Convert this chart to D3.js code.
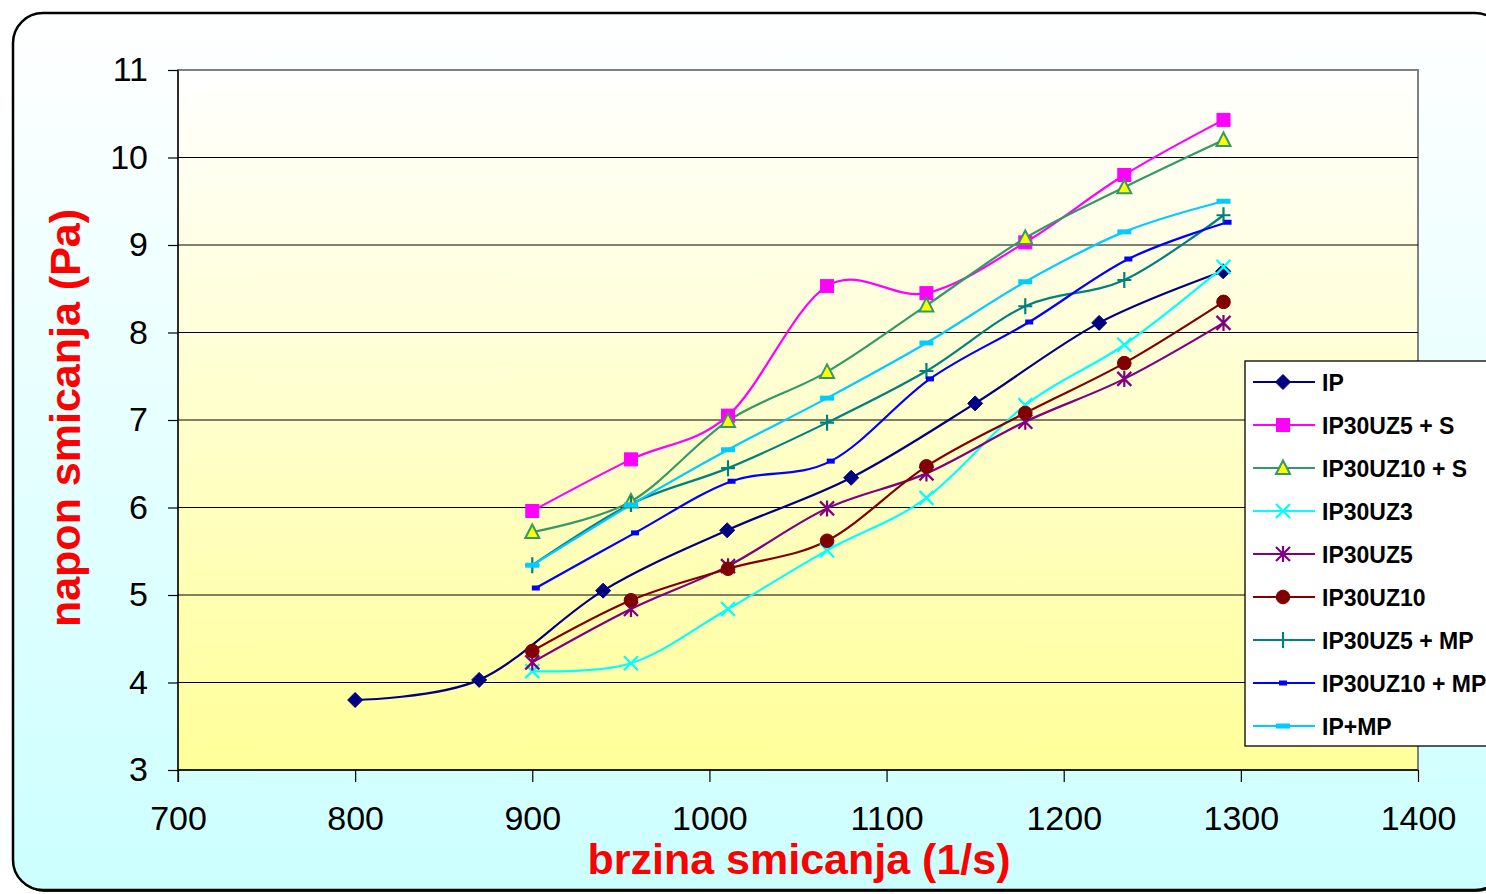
<!DOCTYPE html>
<html>
<head>
<meta charset="utf-8">
<script src="https://cdn.jsdelivr.net/npm/d3@7"></script>
<style>
  html, body { margin: 0; padding: 0; background: #ffffff; overflow: hidden; }
  svg { display: block; font-family: "Liberation Sans", Arial, sans-serif; }
</style>
</head>
<body>
<svg id="chart" width="1486" height="894"></svg>
<script>
// Shear rate (1/s) per measurement
const xIP = [800, 870, 940, 1010, 1080, 1150, 1220, 1290];
const xRates = [900, 955.7, 1010.5, 1066.4, 1122.5, 1178.3, 1234.2, 1290.2];
const xRatesUZ10MP = [902, 958, 1012.5, 1068.5, 1124.5, 1180.5, 1236.5, 1292.5];

// Shear stress (Pa) per series
const ipValues       = [3.80, 4.03, 5.05, 5.74, 6.34, 7.19, 8.11, 8.70];
const uz5sValues     = [5.96, 6.55, 7.05, 8.53, 8.45, 9.03, 9.80, 10.43];
const uz10sValues    = [5.72, 6.07, 6.99, 7.55, 8.31, 9.08, 9.66, 10.20];
const uz3Values      = [4.13, 4.22, 4.84, 5.51, 6.11, 7.17, 7.86, 8.75];
const uz5Values      = [4.23, 4.84, 5.33, 5.99, 6.39, 6.98, 7.47, 8.11];
const uz10Values     = [4.36, 4.94, 5.30, 5.62, 6.47, 7.08, 7.65, 8.35];
const uz5mpValues    = [5.34, 6.04, 6.45, 6.97, 7.56, 8.30, 8.60, 9.34];
const uz10mpValues   = [5.08, 5.71, 6.30, 6.53, 7.47, 8.12, 8.84, 9.26];
const ipmpValues     = [5.34, 6.03, 6.66, 7.25, 7.88, 8.58, 9.15, 9.50];

const seriesNames = ["IP", "IP30UZ5 + S", "IP30UZ10 + S", "IP30UZ3", "IP30UZ5",
                     "IP30UZ10", "IP30UZ5 + MP", "IP30UZ10 + MP", "IP+MP"];

const xTicks = [700, 800, 900, 1000, 1100, 1200, 1300, 1400];
const yTicks = [3, 4, 5, 6, 7, 8, 9, 10, 11];

const series = [
  { name: seriesNames[0], xs: xIP,          ys: ipValues,     color: "#000080", marker: "diamond" },
  { name: seriesNames[1], xs: xRates,       ys: uz5sValues,   color: "#ff00ff", marker: "square" },
  { name: seriesNames[2], xs: xRates,       ys: uz10sValues,  color: "#339966", marker: "triangle", fill: "#ffff00" },
  { name: seriesNames[3], xs: xRates,       ys: uz3Values,    color: "#00ffff", marker: "x" },
  { name: seriesNames[4], xs: xRates,       ys: uz5Values,    color: "#800080", marker: "star" },
  { name: seriesNames[5], xs: xRates,       ys: uz10Values,   color: "#800000", marker: "circle" },
  { name: seriesNames[6], xs: xRates,       ys: uz5mpValues,  color: "#008080", marker: "plus" },
  { name: seriesNames[7], xs: xRatesUZ10MP, ys: uz10mpValues, color: "#0000ff", marker: "shortdash" },
  { name: seriesNames[8], xs: xRates,       ys: ipmpValues,   color: "#00ccff", marker: "longdash" }
];

const svg = d3.select("#chart");
const defs = svg.append("defs");

const bgGrad = defs.append("linearGradient").attr("id", "bgGrad")
  .attr("x1", 0).attr("y1", 0).attr("x2", 0).attr("y2", 1);
bgGrad.append("stop").attr("offset", "0%").attr("stop-color", "#ffffff");
bgGrad.append("stop").attr("offset", "100%").attr("stop-color", "#ccffff");

const plotGrad = defs.append("linearGradient").attr("id", "plotGrad")
  .attr("x1", 0).attr("y1", 0).attr("x2", 0).attr("y2", 1);
plotGrad.append("stop").attr("offset", "0%").attr("stop-color", "#ffffff");
plotGrad.append("stop").attr("offset", "100%").attr("stop-color", "#ffff99");

// Chart frame with a thin drop shadow
svg.append("rect").attr("x", 15).attr("y", 15).attr("width", 1492).attr("height", 877)
  .attr("rx", 30).attr("ry", 30).attr("fill", "#222");
svg.append("rect").attr("x", 13).attr("y", 13).attr("width", 1492).attr("height", 877)
  .attr("rx", 30).attr("ry", 30).attr("fill", "url(#bgGrad)")
  .attr("stroke", "#000").attr("stroke-width", 2.5);

const margin = { left: 178, top: 70, right: 1418, bottom: 770 };
const x = d3.scaleLinear().domain([700, 1400]).range([margin.left, margin.right]);
const y = d3.scaleLinear().domain([3, 11]).range([margin.bottom, margin.top]);

// Plot area
svg.append("rect")
  .attr("x", margin.left).attr("y", margin.top)
  .attr("width", margin.right - margin.left).attr("height", margin.bottom - margin.top)
  .attr("fill", "url(#plotGrad)")
  .attr("stroke", "#808080").attr("stroke-width", 2);

// Horizontal gridlines
svg.append("g").selectAll("line").data(yTicks.slice(1, -1)).join("line")
  .attr("x1", margin.left).attr("x2", margin.right)
  .attr("y1", d => y(d)).attr("y2", d => y(d))
  .attr("stroke", "#000").attr("stroke-width", 1);

// Axes
const xAxis = svg.append("g").attr("transform", `translate(0,${margin.bottom})`)
  .call(d3.axisBottom(x).tickValues(xTicks).tickFormat(d3.format("d")).tickSize(12).tickPadding(24));
const yAxis = svg.append("g").attr("transform", `translate(${margin.left},0)`)
  .call(d3.axisLeft(y).tickValues(yTicks).tickFormat(d3.format("d")).tickSize(10).tickPadding(20));
[xAxis, yAxis].forEach(g => {
  g.select(".domain").attr("stroke", "#000").attr("stroke-width", 1.3);
  g.selectAll(".tick line").attr("stroke", "#000").attr("stroke-width", 1.2);
  g.selectAll(".tick text").attr("fill", "#000").attr("font-size", 34)
    .attr("font-family", "'Liberation Sans', Arial, sans-serif");
});
xAxis.select(".domain").attr("d", `M${margin.left},0H${margin.right}`);
yAxis.select(".domain").attr("d", `M0,${margin.bottom + 12}V${margin.top}`);

// Axis titles
svg.append("text").attr("x", 799).attr("y", 874)
  .attr("text-anchor", "middle").attr("font-size", 43).attr("font-weight", "bold")
  .attr("fill", "#ff0000").text("brzina smicanja (1/s)");
svg.append("text").attr("transform", "translate(80,418) rotate(-90)")
  .attr("text-anchor", "middle").attr("font-size", 43).attr("font-weight", "bold")
  .attr("fill", "#ff0000").text("napon smicanja (Pa)");

// Marker drawing
function drawMarker(g, type, color, fill) {
  switch (type) {
    case "diamond":
      g.append("path").attr("d", "M0,-7.5L7.5,0L0,7.5L-7.5,0Z").attr("fill", color).attr("stroke", color);
      break;
    case "square":
      g.append("rect").attr("x", -6.5).attr("y", -6.5).attr("width", 13).attr("height", 13)
        .attr("fill", color).attr("stroke", color);
      break;
    case "triangle":
      g.append("path").attr("d", "M0,-7.5L7,6L-7,6Z").attr("fill", fill)
        .attr("stroke", color).attr("stroke-width", 2);
      break;
    case "x":
      g.append("path").attr("d", "M-7,-7L7,7M7,-7L-7,7").attr("stroke", color).attr("stroke-width", 2.2).attr("fill", "none");
      break;
    case "star":
      g.append("path").attr("d", "M-7,-7L7,7M7,-7L-7,7M0,-8V8").attr("stroke", color).attr("stroke-width", 2.2).attr("fill", "none");
      break;
    case "circle":
      g.append("circle").attr("r", 6.8).attr("fill", color).attr("stroke", color);
      break;
    case "plus":
      g.append("path").attr("d", "M-7,0H7M0,-8V8").attr("stroke", color).attr("stroke-width", 2.2).attr("fill", "none");
      break;
    case "shortdash":
      g.append("rect").attr("x", -4).attr("y", -2.5).attr("width", 8).attr("height", 5).attr("fill", color);
      break;
    case "longdash":
      g.append("rect").attr("x", -7).attr("y", -2.5).attr("width", 14).attr("height", 5).attr("fill", color);
      break;
  }
}

// Series lines (smoothed) and markers
const line = d3.line().curve(d3.curveCatmullRom.alpha(0));
series.forEach(s => {
  const pts = s.xs.map((v, i) => [x(v), y(s.ys[i])]);
  svg.append("path").attr("d", line(pts)).attr("fill", "none")
    .attr("stroke", s.color).attr("stroke-width", 2.2).attr("stroke-linejoin", "round");
});
series.forEach(s => {
  s.xs.forEach((v, i) => {
    const g = svg.append("g").attr("transform", `translate(${x(v)},${y(s.ys[i])})`);
    drawMarker(g, s.marker, s.color, s.fill);
  });
});

// Legend
const legend = svg.append("g").attr("transform", "translate(1245,361)");
legend.append("rect").attr("x", 0).attr("y", 0).attr("width", 300).attr("height", 385)
  .attr("fill", "#ffffff").attr("stroke", "#000").attr("stroke-width", 1.3);
series.forEach((s, i) => {
  const row = legend.append("g").attr("transform", `translate(0,${21 + i * 43})`);
  row.append("line").attr("x1", 8).attr("x2", 70).attr("y1", 0).attr("y2", 0)
    .attr("stroke", s.color).attr("stroke-width", 2.2);
  drawMarker(row.append("g").attr("transform", "translate(38,0)"), s.marker, s.color, s.fill);
  row.append("text").attr("x", 77).attr("y", 8.5).attr("font-size", 23).attr("font-weight", "bold")
    .attr("fill", "#000").text(s.name);
});
</script>
</body>
</html>
